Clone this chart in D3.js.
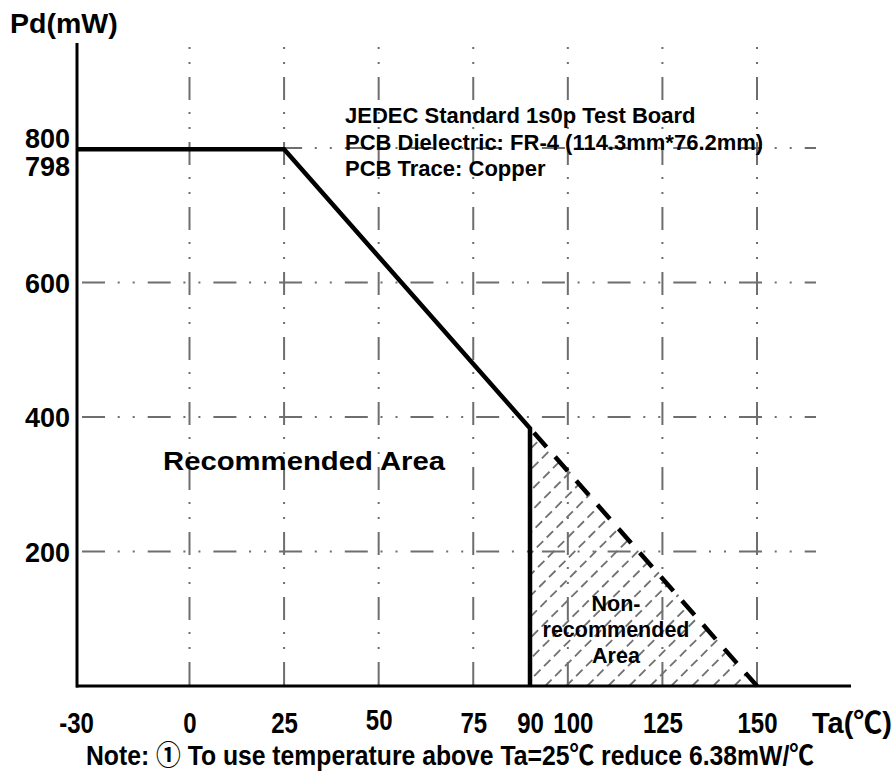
<!DOCTYPE html>
<html>
<head>
<meta charset="utf-8">
<script src="https://cdn.jsdelivr.net/npm/d3@7"></script>
<style>
  body { margin: 0; background: #fff; }
  svg text { font-family: "Liberation Sans", Arial, "Noto Sans CJK SC", sans-serif; font-weight: bold; fill: #000; }
</style>
</head>
<body>
<div id="chart"></div>
<script>
// Chart data
const taTicks = [-30, 0, 25, 50, 75, 90, 100, 125, 150];
const gridTa = [0, 25, 50, 75, 100, 125, 150];
const pdTicks = [200, 400, 600, 800, 798];
const gridPd = [200, 400, 600, 800];

// derating curve (solid) and the non-recommended extension (dashed)
const curveTa = [-30, 25, 90, 90];
const curvePd = [798, 798, 383.3, 0];
const extTa = [90, 150];
const extPd = [383.3, 0];

const boardNotes = [
  'JEDEC Standard 1s0p Test Board',
  'PCB Dielectric: FR-4 (114.3mm*76.2mm)',
  'PCB Trace: Copper'
];

const W = 896, H = 776;
const svg = d3.select('#chart').append('svg')
    .attr('width', W)
    .attr('height', H);

const x = d3.scaleLinear().domain([-30, 150]).range([76, 757]);
const y = d3.scaleLinear().domain([0, 800]).range([686, 148]);

const gridColor = '#6e6e6e';

// vertical grid lines (dot, dot, dash)
svg.append('g').selectAll('line')
  .data(gridTa)
  .join('line')
    .attr('x1', d => x(d)).attr('x2', d => x(d))
    .attr('y1', 45).attr('y2', y(0))
    .attr('stroke', gridColor)
    .attr('stroke-width', 2)
    .attr('stroke-dasharray', '23 12 2 13 2 13')
    .attr('stroke-dashoffset', 33);

// horizontal grid lines
svg.append('g').selectAll('line')
  .data(gridPd)
  .join('line')
    .attr('x1', 82).attr('x2', 816)
    .attr('y1', d => y(d)).attr('y2', d => y(d))
    .attr('stroke', gridColor)
    .attr('stroke-width', 2)
    .attr('stroke-dasharray', '23 12.7 2 13 2 13');

// hatched non-recommended triangle
const tri = [[extTa[0], extPd[0]], [extTa[1], extPd[1]], [extTa[0], 0]];
svg.append('clipPath').attr('id', 'triClip')
  .append('path')
    .attr('d', 'M' + tri.map(p => [x(p[0]) + 2, y(p[1])].join(',')).join('L') + 'Z');

const hatch = svg.append('g').attr('clip-path', 'url(#triClip)');
const x0 = x(90), x1 = x(150), yTop = y(extPd[0]), yBot = y(0);
const hatchStarts = d3.range(x0 - (yBot - yTop), x1 + 5, 21);
hatch.selectAll('line')
  .data(hatchStarts)
  .join('line')
    .attr('x1', d => d).attr('y1', yBot)
    .attr('x2', d => d + (yBot - yTop)).attr('y2', yTop)
    .attr('stroke', '#707070')
    .attr('stroke-width', 1.8)
    .attr('stroke-dasharray', '9 5');

// axes lines
svg.append('line')
  .attr('x1', 77).attr('x2', 77).attr('y1', 43).attr('y2', y(0) + 1.5)
  .attr('stroke', '#000').attr('stroke-width', 3);
svg.append('line')
  .attr('x1', 76).attr('x2', 851).attr('y1', y(0)).attr('y2', y(0))
  .attr('stroke', '#000').attr('stroke-width', 3);

// curves
const line = d3.line().x(d => x(d[0])).y(d => y(d[1]));
svg.append('path')
  .attr('d', line(curveTa.map((t, i) => [t, curvePd[i]])))
  .attr('fill', 'none').attr('stroke', '#000')
  .attr('stroke-width', 4.5).attr('stroke-linejoin', 'miter');

svg.append('path')
  .attr('d', line(extTa.map((t, i) => [t, extPd[i]])))
  .attr('fill', 'none').attr('stroke', '#000')
  .attr('stroke-width', 4.5)
  .attr('stroke-dasharray', '19 13')
  .attr('stroke-dashoffset', -6);

// x tick labels (condensed look)
const xAxis = svg.append('g')
  .attr('transform', `translate(0,${y(0)})`)
  .call(d3.axisBottom(x).tickValues(taTicks).tickSize(0).tickFormat(d => String(d)));
xAxis.select('.domain').remove();
xAxis.selectAll('text')
  .attr('y', 0).attr('dy', 0)
  .attr('transform', d => `translate(${d === 100 ? 5 : 0},${d === 50 ? 44 : 47}) scale(0.8,1)`)
  .style('font-size', '30px');

// y tick labels
const yAxis = svg.append('g')
  .attr('transform', 'translate(77,0)')
  .call(d3.axisLeft(y).tickValues(pdTicks).tickSize(0).tickPadding(7));
yAxis.select('.domain').remove();
yAxis.selectAll('text')
  .attr('dy', d => d === 800 ? -1 : d === 798 ? 26.5 : 9.5)
  .style('font-size', '27px');

// titles
svg.append('text')
  .attr('x', 10).attr('y', 33)
  .style('font-size', '28.5px')
  .text('Pd(mW)');

svg.append('text')
  .attr('x', 812).attr('y', 733)
  .attr('textLength', 80).attr('lengthAdjust', 'spacingAndGlyphs')
  .style('font-size', '30px')
  .text('Ta(℃)');

// board notes
svg.append('g').selectAll('text')
  .data(boardNotes)
  .join('text')
    .attr('x', 345)
    .attr('y', (d, i) => 123 + i * 26.5)
    .style('font-size', '22px')
    .text(d => d);

// area labels
svg.append('text')
  .attr('x', 163).attr('y', 470)
  .attr('textLength', 282).attr('lengthAdjust', 'spacingAndGlyphs')
  .style('font-size', '25px')
  .text('Recommended Area');

svg.append('g').selectAll('text')
  .data(['Non-', 'recommended', 'Area'])
  .join('text')
    .attr('x', 616)
    .attr('y', (d, i) => 611 + i * 26)
    .attr('text-anchor', 'middle')
    .style('font-size', '21.5px')
    .text(d => d);

// note
svg.append('text')
  .attr('x', 86).attr('y', 765)
  .attr('textLength', 728).attr('lengthAdjust', 'spacingAndGlyphs')
  .style('font-size', '27px')
  .text('Note: ① To use temperature above Ta=25℃ reduce 6.38mW/℃');
</script>
</body>
</html>
